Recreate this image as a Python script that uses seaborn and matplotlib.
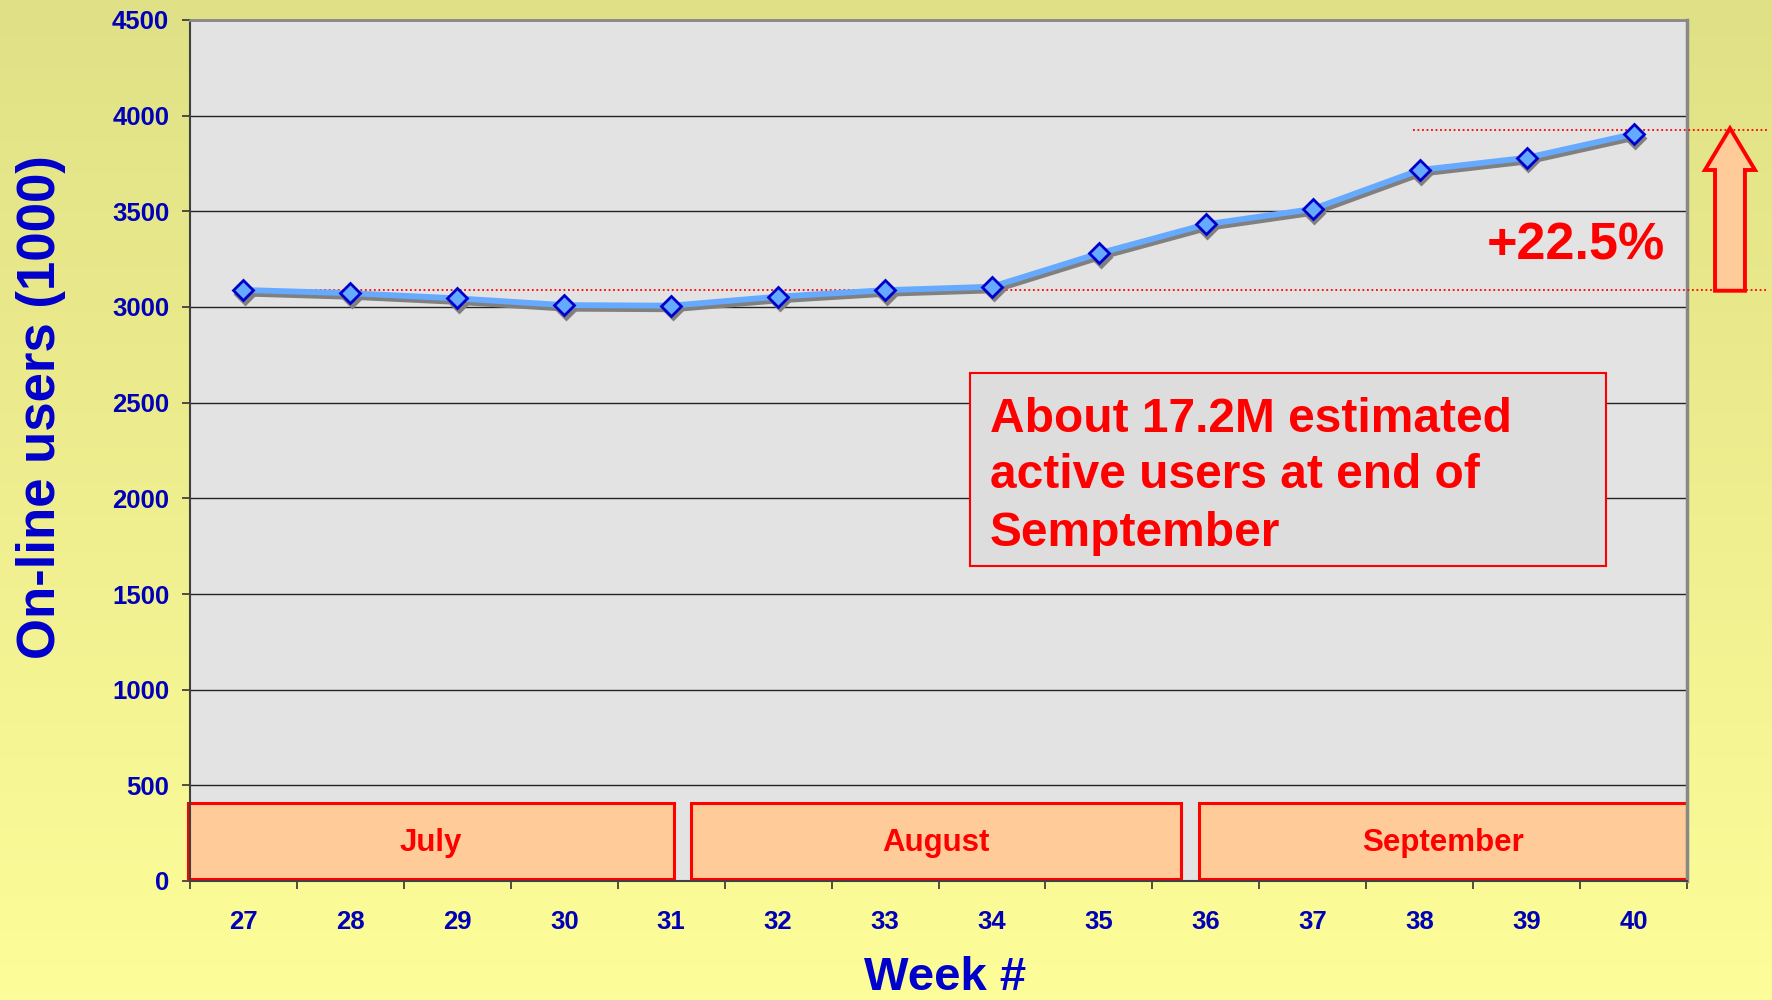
import numpy as np
import pandas as pd
import matplotlib
matplotlib.use("Agg")
import matplotlib.pyplot as plt
import matplotlib.transforms as mtransforms
from matplotlib.patches import Rectangle, Polygon
from matplotlib.colors import LinearSegmentedColormap
import seaborn as sns

# ---------------- data ----------------
weeks = [27, 28, 29, 30, 31, 32, 33, 34, 35, 36, 37, 38, 39, 40]
users = [3089, 3072, 3045, 3010, 3007, 3054, 3088, 3106, 3280, 3432, 3512, 3716, 3780, 3904]
y_ticks = [0, 500, 1000, 1500, 2000, 2500, 3000, 3500, 4000, 4500]
month_names = ["July", "August", "September"]
month_starts = [26.48, 31.19, 35.94]
month_ends = [31.03, 35.77, 40.50]
base_level = 3088
top_level = 3923
growth_label = "+22.5%"
note_lines = ["About 17.2M estimated", "active users at end of", "Semptember"]

df = pd.DataFrame({"week": weeks, "users": users})

# ---------------- style ----------------
sns.set_theme(style="white")
plt.rcParams["font.family"] = ["Liberation Sans", "DejaVu Sans"]
plt.rcParams["font.weight"] = "bold"

BLUE_TXT = "#0000b8"
RED = "#ff0000"
PEACH = "#ffcc99"

fig = plt.figure(figsize=(17.72, 10), dpi=100)

# background gradient
bg = fig.add_axes([0, 0, 1, 1], zorder=-10)
cmap = LinearSegmentedColormap.from_list("bg", ["#e0e086", "#fdfd99"])
grad = np.linspace(0, 1, 256).reshape(-1, 1)
bg.imshow(grad, aspect="auto", cmap=cmap, extent=[0, 1, 0, 1], origin="upper")
bg.set_axis_off()

ax = fig.add_axes([190 / 1772, 1 - 881 / 1000, (1687 - 190) / 1772, (881 - 20) / 1000])
ax.set_facecolor("#e3e3e3")
ax.set_xlim(26.5, 40.5)
ax.set_ylim(0, 4500)

# gridlines
ax.set_yticks(y_ticks)
ax.yaxis.grid(True, color="#222222", linewidth=1.0)
ax.set_axisbelow(True)

# month boxes
for name, s, e in zip(month_names, month_starts, month_ends):
    ax.add_patch(Rectangle((s, 8), e - s, 402, facecolor=PEACH, edgecolor=RED,
                           linewidth=2.2, zorder=2, clip_on=False))
    ax.text((s + e) / 2, 200, name, color=RED, fontsize=22.5, fontweight="bold",
            ha="center", va="center", zorder=3)

# note box
ax.add_patch(Rectangle((33.79, 1646), 39.74 - 33.79, 2655 - 1646, facecolor="#dddddd",
                       edgecolor=RED, linewidth=1.5, zorder=2))
for line, yb in zip(note_lines, [2349, 2052, 1753]):
    ax.text(33.98, yb, line, color=RED, fontsize=34.5, fontweight="bold",
            ha="left", va="baseline", zorder=3)

# dotted reference lines
ax.plot([27, 41.26], [base_level, base_level], color=RED, linestyle=(0, (1, 1.5)),
        linewidth=1.3, clip_on=False, zorder=3)
ax.plot([37.94, 41.26], [top_level, top_level], color=RED, linestyle=(0, (1, 1.5)),
        linewidth=1.3, clip_on=False, zorder=3)

# shadow line
shadow_tr = ax.transData + mtransforms.ScaledTranslation(1.2 / 72, -2.6 / 72, fig.dpi_scale_trans)
sns.lineplot(data=df, x="week", y="users", ax=ax, color="#808080", linewidth=4.2,
             marker="D", markersize=9.8, markerfacecolor="#808080", markeredgecolor="#808080",
             markeredgewidth=2.0, transform=shadow_tr, zorder=4)
# main line
sns.lineplot(data=df, x="week", y="users", ax=ax, color="#66aaff", linewidth=4.2,
             marker="D", markersize=9.8, markerfacecolor="#66aaff", markeredgecolor="#0000cc",
             markeredgewidth=2.0, zorder=5)

# growth arrow
cx, bw, hw = 40.902, 0.140, 0.234
y0, yh, yt = 3085, 3716, 3934
arrow = Polygon([(cx - bw, y0), (cx - bw, yh), (cx - hw, yh), (cx, yt), (cx + hw, yh),
                 (cx + bw, yh), (cx + bw, y0)], closed=True, facecolor=PEACH,
                edgecolor=RED, linewidth=2.8, clip_on=False, zorder=6)
ax.add_patch(arrow)
ax.text(39.46, 3249, growth_label, color=RED, fontsize=37.5, fontweight="bold",
        ha="center", va="baseline", zorder=6)

# axes / ticks
ax.set_xlabel("")
ax.set_ylabel("")
major_x = np.arange(26.5, 40.6, 1.0)
ax.set_xticks(major_x)
ax.set_xticklabels([])
ax.set_xticks(weeks, minor=True)
ax.set_xticklabels([str(w) for w in weeks], minor=True)
ax.tick_params(axis="x", which="major", length=6, width=1.2, color="#333333", direction="out",
               bottom=True)
ax.tick_params(axis="x", which="minor", length=0, pad=21, labelsize=18.5, labelcolor=BLUE_TXT,
               bottom=True)
ax.tick_params(axis="y", length=6, width=1.2, color="#333333", direction="out", pad=9,
               labelsize=18.5, labelcolor=BLUE_TXT, left=True)
for lab in ax.get_xticklabels(minor=True) + ax.get_yticklabels():
    lab.set_fontweight("bold")

ax.spines["left"].set_color("#404040")
ax.spines["left"].set_linewidth(1.5)
ax.spines["bottom"].set_color("#404040")
ax.spines["bottom"].set_linewidth(1.5)
ax.spines["top"].set_color("#888888")
ax.spines["top"].set_linewidth(2.0)
ax.spines["right"].set_color("#888888")
ax.spines["right"].set_linewidth(2.5)

fig.text(41 / 1772, 1 - 407 / 1000, "On-line users (1000)", rotation=90, color="#0000cc",
         fontsize=38, fontweight="bold", ha="center", va="center")
fig.text(945 / 1772, 1 - 978 / 1000, "Week #", color="#0000cc", fontsize=34,
         fontweight="bold", ha="center", va="center")

fig.savefig("out.png", dpi=100)
